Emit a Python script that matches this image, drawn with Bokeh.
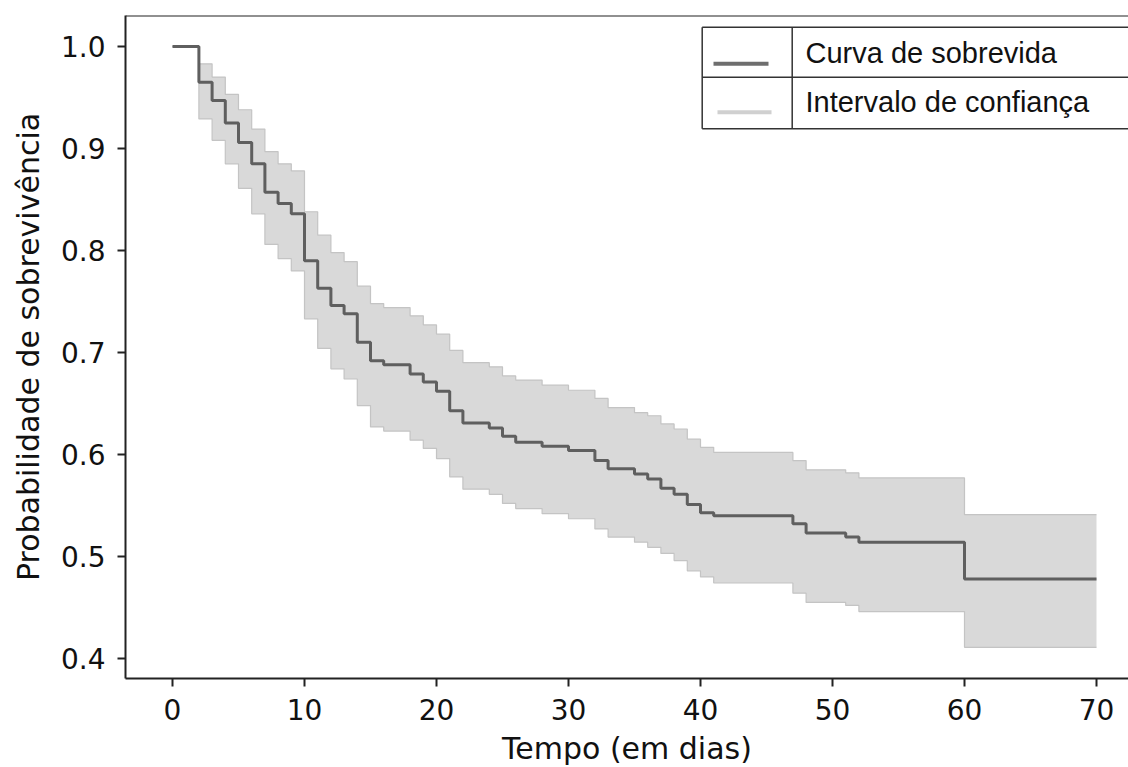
from bokeh.plotting import figure
from bokeh.models import Range1d, FixedTicker, Span, Label, ColumnDataSource
from bokeh.embed import file_html
from bokeh.resources import INLINE

# ---- data ----
times = [0, 2, 3, 4, 5, 6, 7, 8, 9, 10,
         11, 12, 13, 14, 15, 16, 18, 19, 20, 21,
         22, 24, 25, 26, 28, 30, 32, 33, 35, 36,
         37, 38, 39, 40, 41, 47, 48, 51, 52, 60,
         70]
survival = [1.0, 0.965, 0.947, 0.925, 0.906, 0.885, 0.857, 0.846, 0.836, 0.790,
            0.763, 0.746, 0.738, 0.710, 0.692, 0.688, 0.679, 0.671, 0.662, 0.643,
            0.631, 0.626, 0.618, 0.612, 0.608, 0.604, 0.594, 0.586, 0.581, 0.576,
            0.567, 0.561, 0.551, 0.543, 0.540, 0.532, 0.523, 0.519, 0.514, 0.478,
            0.478]
upper_ci = [1.0, 0.983, 0.970, 0.953, 0.938, 0.919, 0.897, 0.885, 0.878, 0.838,
            0.815, 0.798, 0.789, 0.765, 0.748, 0.744, 0.736, 0.727, 0.718, 0.702,
            0.690, 0.686, 0.677, 0.673, 0.668, 0.663, 0.655, 0.646, 0.641, 0.638,
            0.630, 0.625, 0.615, 0.607, 0.602, 0.594, 0.585, 0.582, 0.577, 0.541,
            0.541]
lower_ci = [1.0, 0.929, 0.908, 0.885, 0.861, 0.836, 0.806, 0.792, 0.780, 0.733,
            0.704, 0.684, 0.674, 0.648, 0.627, 0.623, 0.614, 0.606, 0.596, 0.578,
            0.566, 0.561, 0.552, 0.547, 0.542, 0.537, 0.527, 0.519, 0.514, 0.509,
            0.503, 0.496, 0.486, 0.480, 0.474, 0.464, 0.455, 0.452, 0.446, 0.411,
            0.411]
x_ticks = [0, 10, 20, 30, 40, 50, 60, 70]
y_ticks = [0.4, 0.5, 0.6, 0.7, 0.8, 0.9, 1.0]
legend_labels = ["Curva de sobrevida", "Intervalo de confiança"]
x_title = "Tempo (em dias)"
y_title = "Probabilidade de sobrevivência"

# ---- layout ----
FRAME_LEFT_PX, FRAME_TOP_PX = 125.0, 15.0
FRAME_W, FRAME_H = 1003, 663
PX_PER_X = 13.2
PX_PER_Y = 1020.0
X0 = -(172.0 - FRAME_LEFT_PX) / PX_PER_X
X1 = X0 + FRAME_W / PX_PER_X
Y1 = 1.0 + (46.0 - FRAME_TOP_PX) / PX_PER_Y
Y0 = Y1 - FRAME_H / PX_PER_Y

def px_x(px):
    return X0 + (px - FRAME_LEFT_PX) / PX_PER_X

def px_y(py):
    return Y1 - (py - FRAME_TOP_PX) / PX_PER_Y

p = figure(frame_width=FRAME_W, frame_height=FRAME_H,
           x_range=Range1d(X0, X1), y_range=Range1d(Y0, Y1),
           output_backend="svg", toolbar_location=None,
           min_border_left=int(FRAME_LEFT_PX), min_border_right=0,
           min_border_top=int(FRAME_TOP_PX), min_border_bottom=88)
p.outline_line_color = None
p.background_fill_color = "white"
p.border_fill_color = "white"
p.xgrid.visible = False
p.ygrid.visible = False

src = ColumnDataSource(dict(t=times, s=survival, lo=lower_ci, hi=upper_ci))

p.varea_step(x="t", y1="lo", y2="hi", source=src, step_mode="after",
             fill_color="#d9d9d9", fill_alpha=1.0)
p.step(x="t", y="hi", source=src, mode="after", line_color="#c4c4c4", line_width=1.2)
p.step(x="t", y="lo", source=src, mode="after", line_color="#c4c4c4", line_width=1.2)
p.step(x="t", y="s", source=src, mode="after", line_color="#5f5f5f", line_width=3)

# top border of the frame
p.add_layout(Span(location=Y1, dimension="width", line_color="#222222", line_width=2))

# axes styling
for ax in (p.xaxis[0], p.yaxis[0]):
    ax.axis_line_color = "#222222"
    ax.axis_line_width = 2
    ax.major_tick_line_color = "#222222"
    ax.major_tick_line_width = 2
    ax.major_tick_out = 8
    ax.major_tick_in = 0
    ax.minor_tick_line_color = None
    ax.major_label_text_font = "DejaVu Sans"
    ax.major_label_text_font_size = "28px"
    ax.major_label_text_color = "#111111"
    ax.axis_label_text_font = "DejaVu Sans"
    ax.axis_label_text_font_style = "normal"
    ax.axis_label_text_color = "#111111"

p.xaxis.ticker = FixedTicker(ticks=x_ticks)
p.yaxis.ticker = FixedTicker(ticks=y_ticks)
p.yaxis.major_label_overrides = {v: f"{v:.1f}" for v in y_ticks}
p.xaxis.axis_label = x_title
p.yaxis.axis_label = y_title
p.xaxis.axis_label_text_font_size = "30px"
p.yaxis.axis_label_text_font_size = "30px"
p.xaxis.major_label_standoff = 12
p.xaxis.axis_label_standoff = 8
p.yaxis.major_label_standoff = 12
p.yaxis.axis_label_standoff = 12

# ---- table-like legend ----
lg_left, lg_div, lg_right = px_x(701.7), px_x(791.7), X1
lg_top, lg_mid, lg_bot = px_y(26.7), px_y(76.7), px_y(128.3)
p.quad(left=[lg_left], right=[lg_right], top=[lg_top], bottom=[lg_bot],
       fill_color="white", line_color=None)
edge = "#333333"
p.segment(x0=[lg_left, lg_left, lg_left], x1=[lg_right, lg_right, lg_right],
          y0=[lg_top, lg_mid, lg_bot], y1=[lg_top, lg_mid, lg_bot],
          line_color=edge, line_width=1.5)
p.segment(x0=[lg_left, lg_div], x1=[lg_left, lg_div],
          y0=[lg_top, lg_top], y1=[lg_bot, lg_bot],
          line_color=edge, line_width=1.5)
p.segment(x0=[px_x(713)], x1=[px_x(768)], y0=[px_y(63.3)], y1=[px_y(63.3)],
          line_color="#6e6e6e", line_width=4)
p.segment(x0=[px_x(717)], x1=[px_x(771)], y0=[px_y(111.7)], y1=[px_y(111.7)],
          line_color="#d0d0d0", line_width=4)
for lab, mid in zip(legend_labels, [52.0, 101.0]):
    p.add_layout(Label(x=px_x(805), y=px_y(mid), text=lab,
                       text_font="Liberation Sans", text_font_size="29px",
                       text_color="#111111", text_baseline="middle"))

open("out.html", "w").write(file_html(p, INLINE))
